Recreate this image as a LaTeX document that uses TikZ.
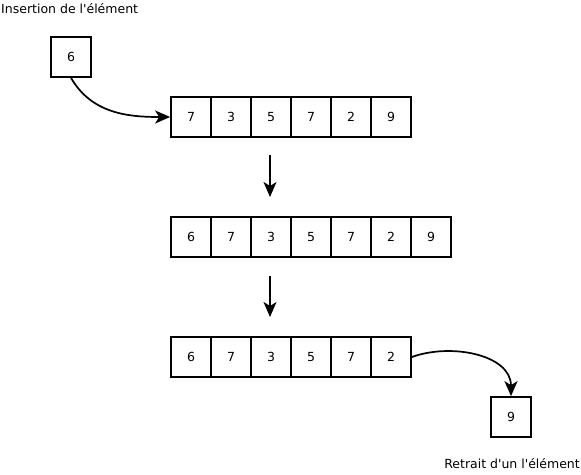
\documentclass[tikz,border=0pt]{standalone}
\usepackage{fontspec}
\setmainfont[Ligatures=TeXOff]{DejaVu Sans}
\usetikzlibrary{arrows.meta}
\begin{document}
\begin{tikzpicture}[x=1pt,y=-1pt,
  cell/.style={draw,line width=1.7pt,minimum size=40pt,inner sep=0pt,font=\fontsize{12.5}{14}\selectfont},
  lbl/.style={inner sep=0pt,font=\fontsize{12.5}{14}\selectfont},
  arr/.style={line width=1.7pt,-{Stealth[length=15pt,width=13pt,inset=4pt]}}]
\useasboundingbox (0,0) rectangle (581,474);
\node[lbl,anchor=west] (tin) at (1,9) {Insertion de l'élément};
\node[cell] (in) at (71,57) {6};
\foreach \v [count=\i] in {7,3,5,7,2,9}
  \node[cell] (a\i) at (151+40*\i,117) {\v};
\foreach \v [count=\i] in {6,7,3,5,7,2,9}
  \node[cell] (b\i) at (151+40*\i,237) {\v};
\foreach \v [count=\i] in {6,7,3,5,7,2}
  \node[cell] (c\i) at (151+40*\i,357) {\v};
\node[cell] (out) at (511,417) {9};
\node[lbl,anchor=east] (tout) at (580,464) {Retrait d'un l'élément};
\coordinate (d1s) at (270,155);
\coordinate (d1e) at (270,197);
\coordinate (d2s) at (270,276);
\coordinate (d2e) at (270,317);
\draw[arr] (d1s) -- (d1e);
\draw[arr] (d2s) -- (d2e);
\draw[arr] (in.south) to[out=-60,in=180] (a1.west);
\draw[arr] (c6.east) to[out=20,in=90] (out.north);
\end{tikzpicture}
\end{document}
